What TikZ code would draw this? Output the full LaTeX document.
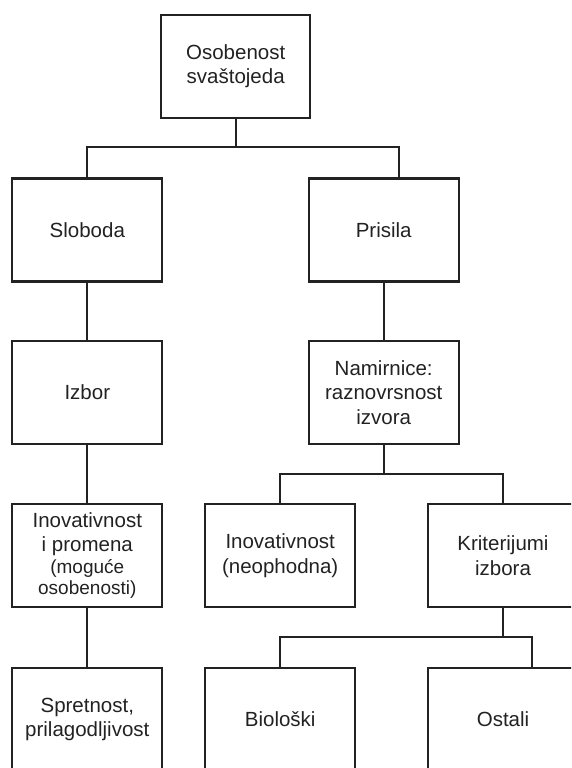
\documentclass[tikz,border=0pt]{standalone}
\usepackage{fontspec}
\setmainfont{Liberation Sans}
\definecolor{ink}{HTML}{222222}
\begin{document}
\begin{tikzpicture}[x=1pt,y=-1pt,
  box/.style={draw=ink,line width=2.2pt,rectangle,minimum width=150pt,minimum height=103pt,
    inner sep=0pt,align=center,text=ink,font=\fontsize{20.5}{24.5}\selectfont},
  conn/.style={draw=ink,line width=2.2pt,line join=miter}]
\useasboundingbox (0,0) rectangle (571,768);
\clip (0,0) rectangle (571,768);
\node[box,minimum width=149.3pt] (top) at (235.7,66.3) {Osobenost\\svaštojeda};
\node[box] (sloboda) at (87.3,230) {Sloboda};
\node[box] (prisila) at (383.7,230) {Prisila};
\node[box] (izbor) at (87.3,392.2) {Izbor};
\node[box] (namir) at (383.7,392.2) {Namirnice:\\raznovrsnost\\izvora};
\node[box] (inov1) at (87.3,555.5) {Inovativnost\\i promena\\[-3pt]{\fontsize{19}{21}\selectfont (moguće}\\[-3.5pt]{\fontsize{19}{21}\selectfont osobenosti)}};
\node[box] (inov2) at (280.2,555.5) {Inovativnost\\(neophodna)};
\node[box] (krit) at (503,555.5) {Kriterijumi\\izbora};
\node[box] (spret) at (87.3,719.5) {Spretnost,\\prilagodljivost};
\node[box] (bio) at (280.2,719.5) {Biološki};
\node[box] (ostali) at (503,719.5) {Ostali};
\coordinate (j1) at (235.7,147.3);
\coordinate (prisilaIn) at ([xshift=15pt]prisila.north);
\coordinate (j2) at (383.7,473.7);
\coordinate (j3) at (503,637.3);
\coordinate (ostaliIn) at ([xshift=29.3pt]ostali.north);
\draw[conn] (top.south) -- (j1);
\draw[conn] (sloboda.north) |- (j1) -| (prisilaIn);
\draw[conn] (sloboda.south) -- (izbor.north);
\draw[conn] (izbor.south) -- (inov1.north);
\draw[conn] (inov1.south) -- (spret.north);
\draw[conn] (prisila.south) -- (namir.north);
\draw[conn] (namir.south) -- (j2);
\draw[conn] (inov2.north) |- (j2) -| (krit.north);
\draw[conn] (krit.south) -- (j3);
\draw[conn] (bio.north) |- (j3) -| (ostaliIn);
\end{tikzpicture}
\end{document}
